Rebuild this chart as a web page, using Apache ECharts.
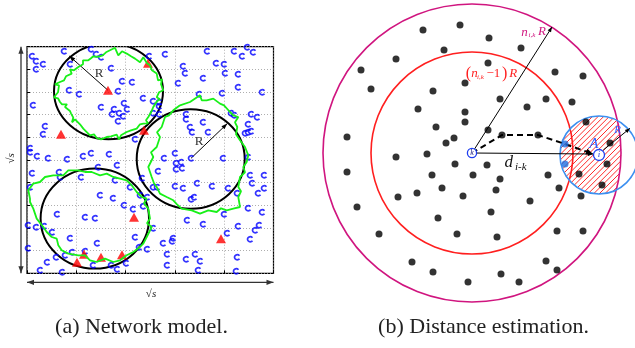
<!DOCTYPE html>
<html><head><meta charset="utf-8">
<script src="https://cdn.jsdelivr.net/npm/echarts@6/dist/echarts.min.js"></script>
<style>html,body{margin:0;padding:0;background:#fff}#c{width:635px;height:348px}</style>
</head><body><div id="c"></div>
<script>
// ---------- (a) Network model : field units ----------
const sensorNodes = [
[5,217],[9,212],[16,209],[9,204],[37,222],[43,209],[64,224],[74,216],[69,219],[84,205],[95,192],[105,191],[91,182],[42,183],[52,179],[6,168],[74,166],[97,170],[100,164],[87,164],[92,160],[85,159],[96,157],[91,152],[116,175],[18,147],[16,139],[3,125],[3,121],[10,117],[21,115],[40,114],[56,117],[64,120],[82,119],[108,134],
[122,217],[138,219],[180,222],[207,222],[215,217],[220,226],[226,221],[156,207],[189,210],[197,209],[158,200],[176,195],[198,200],[211,199],[151,190],[211,186],[235,181],[172,179],[195,180],[126,172],[132,171],[132,167],[126,160],[132,159],[159,159],[159,154],[204,160],[207,158],[224,159],[230,156],[176,151],[163,146],[221,149],[165,141],[181,141],[218,140],[221,141],[224,142],[137,115],[148,120],[164,115],[196,115],[221,116],
[90,108],[71,106],[5,100],[32,101],[33,96],[54,96],[88,93],[3,86],[103,86],[113,78],[73,78],[86,75],[97,68],[106,64],[1,48],[9,46],[17,47],[30,59],[58,56],[68,55],[25,41],[43,35],[70,30],[108,36],[112,26],[1,25],[20,11],[29,16],[38,18],[45,21],[58,22],[66,8],[84,8],[90,4],[99,10],[13,3],[35,1],
[154,111],[149,110],[155,105],[149,104],[131,102],[223,98],[237,98],[115,95],[225,90],[126,86],[130,86],[148,87],[156,85],[170,90],[185,87],[201,85],[210,80],[231,80],[237,85],[167,76],[164,74],[120,76],[221,65],[235,61],[197,59],[160,53],[126,45],[176,49],[211,47],[232,48],[228,43],[146,35],[145,32],[136,30],[200,40],[223,34],[120,24],[140,19],[159,14],[168,19],[173,12],[210,16],[140,8],[171,3],[209,2],[116,67]
];
const anchorNodes = [[81,183],[121,210],[34,139],[117,143],[107,56],[194,34.5],[50,11],[57,19],[74,16],[95,18.5]];
// [cx, cy, rx, ry]
const coverageCircles = [[81.5,182,54.5,48],[163.7,114.3,54,49.7],[67.8,54.7,54.2,50]];
const contourA = [[83,223],[88,225.5],[91.3,218],[95,222],[99.7,219.7],[104,217],[108,214.7],[113,211],[116.3,216],[120,210],[123,208],[125,203],[129.7,199.7],[131,193],[135,194],[134,189],[136.3,183],[132,181],[129.7,176],[133,174],[130,172],[126.3,166.3],[124,161],[121.3,156.3],[119,153],[121,150],[116.3,149.7],[113,149],[109.7,144.7],[104,143],[99.7,141.3],[94,138],[92,134],[89.7,138.7],[84,137],[79.7,136.3],[74,134],[69.7,135.3],[67,139],[63,138],[59,142],[56.3,144.7],[53,149],[51.3,150.7],[48,154],[45,151],[46.3,155.7],[44,160],[43,162.3],[38,166.3],[40,169],[35,169],[33,171.3],[31,175],[27,176],[29,178],[31,181],[30.3,183],[32,188],[28,189],[33,191.3],[37,193],[39,197],[44.7,199.7],[43,204],[47,203],[51.3,206.3],[56,209],[56,213],[61.3,213],[64,215],[66.3,217],[71,216.5],[75.7,218],[79,221]];
const contourB = [[153,168],[163,171.3],[173,178],[174.7,173],[179.7,173],[186.3,174.7],[193,169.7],[197,168],[203,161.3],[206.3,158],[211.3,156.3],[208,151],[210.3,146.3],[209,139],[213,133],[218,126.3],[221.3,118],[219.7,111.3],[216.3,106.3],[218,101],[213,96.3],[211.3,86.3],[214,82],[211.3,76.3],[213,66.3],[206.3,64.7],[199.7,63],[194,65],[189.7,61.3],[181.3,63],[173,59.7],[164.7,63],[154.7,64.7],[150,69],[146.3,73],[139.7,76.3],[133,79.7],[129.7,86.3],[127,90],[124.7,96.3],[121.3,106.3],[126.3,116.3],[124,121],[129.7,126.3],[133,136.3],[130,141],[134.7,146.3],[138,156.3],[142,158],[146.3,163]];
const contourC = [[3,74.7],[1.3,83],[6.3,89.7],[13,91.3],[18,96.3],[26.3,98],[36.3,98],[41.3,103],[51.3,103],[58,101.3],[64.7,101.3],[73,98],[79.7,99.7],[86.3,96.3],[93,94.7],[99.7,93],[104.7,88],[109.7,81.3],[114.7,76.3],[119.7,74.7],[117,70],[121.3,64.7],[123,54.7],[120,50],[124.7,46.3],[119.7,36.3],[116.3,29.7],[111.3,25],[106.3,21.3],[99.7,18],[93,13],[86.3,11.3],[78,14.7],[69.7,11.3],[63,13],[58,18],[51.3,18],[41.3,19.7],[34.7,23],[31.3,28],[29.7,34.7],[24.7,36.3],[19.7,41.3],[16.3,46.3],[9.7,54.7],[6.3,64.7],[3,71.3]];
const radiusArrows = [[81,183,42.3,217.3],[164,115,200.3,149.7]];
const fieldArrows = [[-6,0,-6,226.6],[0,-9,246.5,-9]];
const fieldLabels = [[72,200,'R','rL'],[172,132,'R','rL'],[-16,115,'\u221As','sV'],[124,-21,'\u221As','sH']];

// ---------- (b) Distance estimation : units relative to node k ----------
const otherNodes = [[-12,128],[-49,123],[17,115],[49,105],[-28,103],[-76,94],[16,90],[-111,83],[83,81],[111,77],[-7,70],[-101,64],[-39,62],[28,54],[74,54],[100,51],[-54,44],[55,46],[-7,41],[-7,31],[-36,26],[114,31],[16,23],[30,18],[66,18],[-18,15],[-26,10],[-125,16],[138,10],[-76,-4],[-45,-1],[-17,-11],[15,-12],[135,-11],[-125,-19],[-40,-22],[1,-22],[28,-26],[76,-22],[107,-21],[-30,-35],[24,-37],[87,-35],[130,-32],[-74,-44],[-55,-40],[-9,-43],[109,-43],[-115,-54],[58,-48],[19,-59],[-34,-65],[-93,-81],[-15,-81],[25,-84],[85,-78],[111,-78],[-60,-109],[74,-108],[-39,-119],[29,-121],[85,-117],[-4,-129],[47,-129]];
const relayNodes = [[93,9],[93,-11]];
// [cx, cy, r] : n_{i,k}R ring, (n_{i,k}-1)R ring, range R of node i
const rangeCircles = [[0,0,149],[0,0,101],[127,-2,39]];
const nodeK = [0,0];
const nodeI = [127,-2];
const rangeSegments = [[0,0,121,-1],[0,0,80,126],[131.3,3,158,24.7]];
const hopRoute = [[0,0],[30,18],[66,18],[93,9],[121,-1]];
const estLabels = [
 [52.5,120.5,'n','mg'],[60,117.5,'i,k','mgs'],[70,121.5,'R','mg'],
 [-3.7,79.7,'(','rdp'],[2.5,79.7,'n','rd'],[8.5,76,'i,k','rds'],[21.3,79.7,'\u22121','rdu'],[32.7,79.7,')','rdp'],[41.3,79.7,'R','rd'],
 [36.7,-9.5,'d','dk'],[48.8,-14.5,'i-k','dks'],
 [121.8,9.2,'A','bl'],[145.5,23,'R','bls'],
 [0,0,'k','kk'],[127,-2,'i','ii']
];

// ---------- styles ----------
const SERIF = '"Liberation Serif", "DejaVu Serif", serif';
const labelStyle = {
  rL:{font:'13px '+SERIF, fill:'#333'},
  sV:{font:'italic 11px '+SERIF, fill:'#222', rot:Math.PI/2},
  sH:{font:'italic 11px '+SERIF, fill:'#222'},
  mg:{font:'italic 13px '+SERIF, fill:'#d0157f'},
  mgs:{font:'italic 7px '+SERIF, fill:'#d0157f'},
  rd:{font:'italic 13px '+SERIF, fill:'#ff2020'},
  rds:{font:'italic 7px '+SERIF, fill:'#ff2020'},
  rdu:{font:'13px '+SERIF, fill:'#ff2020'},
  rdp:{font:'16px '+SERIF, fill:'#ff2020'},
  dk:{font:'italic 17px '+SERIF, fill:'#111'},
  dks:{font:'italic 11px '+SERIF, fill:'#111'},
  bl:{font:'italic 15px '+SERIF, fill:'#2f5cff'},
  bls:{font:'italic 11px '+SERIF, fill:'#2f5cff'},
  kk:{font:'italic 8px '+SERIF, fill:'#1a1a80'},
  ii:{font:'italic 9px '+SERIF, fill:'#2040e0'}
};
const ringColors = ['#d0157f','#ff1f1f','#3b8ff0'];
const HATCH_STEP = 5.6;

function arrowEls(p1,p2,color,width,heads,hl,hw,dash){
  const els=[{type:'line',shape:{x1:p1[0],y1:p1[1],x2:p2[0],y2:p2[1]},style:{stroke:color,lineWidth:width,lineDash:dash||null}}];
  const add=(tip,from)=>{const dx=tip[0]-from[0],dy=tip[1]-from[1],L=Math.hypot(dx,dy)||1,ux=dx/L,uy=dy/L;
    const bx=tip[0]-ux*hl,by=tip[1]-uy*hl;
    els.push({type:'polygon',shape:{points:[[tip[0],tip[1]],[bx-uy*hw,by+ux*hw],[bx+uy*hw,by-ux*hw]]},style:{fill:color}});};
  if(heads&1)add(p2,p1); if(heads&2)add(p1,p2);
  return els;
}
function segRender(color,width,heads,hl,hw){
  return function(params,api){
    const a=api.coord([api.value(0),api.value(1)]), b=api.coord([api.value(2),api.value(3)]);
    return {type:'group',children:arrowEls(a,b,color,width,heads,hl,hw)};
  };
}
function makeTextSeries(list, xi, yi){
  return {type:'custom', xAxisIndex:xi, yAxisIndex:yi, clip:false, z:10,
    data:list.map(l=>[l[0],l[1]]),
    renderItem:function(params,api){
      const l=list[params.dataIndex]; const st=labelStyle[l[3]];
      const p=api.coord([l[0],l[1]]);
      return {type:'text', x:p[0], y:p[1], rotation:st.rot||0,
        style:{text:l[2], font:st.font, fill:st.fill, align:'center', verticalAlign:'middle'}};
    }};
}
// hatch of the region shared by the n_{i,k}R disc and node i's range disc
function lensRender(params,api){
  const A=rangeCircles[0], B=rangeCircles[2];
  const span=(c,cx,cy,r)=>{ // line points (t, t+c) inside circle
    const a=2, b=2*(c-cy-cx), cc=cx*cx+(c-cy)*(c-cy)-r*r, disc=b*b-4*a*cc;
    if(disc<=0) return null; const s=Math.sqrt(disc); return [(-b-s)/(2*a),(-b+s)/(2*a)];
  };
  const els=[];
  const cMin=B[1]-B[0]-B[2]*1.5, cMax=B[1]-B[0]+B[2]*1.5;
  for(let c=Math.ceil(cMin/HATCH_STEP)*HATCH_STEP;c<=cMax;c+=HATCH_STEP){
    const s1=span(c,A[0],A[1],A[2]), s2=span(c,B[0],B[1],B[2]);
    if(!s1||!s2) continue;
    const t0=Math.max(s1[0],s2[0]), t1=Math.min(s1[1],s2[1]);
    if(t1<=t0) continue;
    const p=api.coord([t0,t0+c]), q=api.coord([t1,t1+c]);
    els.push({type:'line',shape:{x1:p[0],y1:p[1],x2:q[0],y2:q[1]},style:{stroke:'#ff2a2a',lineWidth:1}});
  }
  return {type:'group',children:els};
}

const ax = (o)=>Object.assign({type:'value', axisLabel:{show:false}, axisLine:{show:false}},o);
const option = {
  animation:false,
  backgroundColor:'#fff',
  grid:[
    {left:27, top:46.7, width:246.5, height:226.6, show:true, borderColor:'#000', borderWidth:1.2, outerBoundsMode:'none'},
    {left:316, top:0, width:320, height:348, show:false, outerBoundsMode:'none'}
  ],
  xAxis:[
    ax({gridIndex:0, min:0, max:10, interval:2, axisTick:{show:true,inside:true,length:3,lineStyle:{color:'#000'}}, splitLine:{show:true,lineStyle:{color:'#999',type:[1,2],width:0.8}}}),
    ax({gridIndex:0, min:0, max:246.5, show:false, splitLine:{show:false}}),
    ax({gridIndex:1, min:-156, max:164, show:false, splitLine:{show:false}})
  ],
  yAxis:[
    ax({gridIndex:0, min:0, max:10, interval:1, axisTick:{show:true,inside:true,length:3,lineStyle:{color:'#000'}}, splitLine:{show:true,lineStyle:{color:'#999',type:[1,2],width:0.8}}}),
    ax({gridIndex:0, min:0, max:226.6, show:false, splitLine:{show:false}}),
    ax({gridIndex:1, min:-195, max:153, show:false, splitLine:{show:false}})
  ],
  graphic:[
    {type:'text', x:141.5, y:327, style:{text:'(a) Network model.', font:'22px '+SERIF, fill:'#222', align:'center', verticalAlign:'middle'}},
    {type:'text', x:483.5, y:327, style:{text:'(b) Distance estimation.', font:'22px '+SERIF, fill:'#222', align:'center', verticalAlign:'middle'}}
  ],
  series:[
    ...[contourA,contourB,contourC].map(c=>({type:'line', xAxisIndex:1, yAxisIndex:1, data:c.concat([c[0]]), symbol:'none', clip:true, lineStyle:{color:'#18f018', width:1.8}})),
    {type:'custom', xAxisIndex:1, yAxisIndex:1, clip:true, data:coverageCircles,
      renderItem:function(params,api){const c=api.coord([api.value(0),api.value(1)]); const s=api.size([api.value(2),api.value(3)]);
        return {type:'ellipse',shape:{cx:c[0],cy:c[1],rx:s[0],ry:s[1]},style:{fill:'none',stroke:'#000',lineWidth:2}};}},
    {type:'scatter', xAxisIndex:1, yAxisIndex:1, data:sensorNodes, symbol:'path://M9,2.6A4,4,0,1,0,9,7.4', symbolSize:5,
      itemStyle:{color:'rgba(0,0,0,0)', borderColor:'#0000ff', borderWidth:1.7}},
    {type:'scatter', xAxisIndex:1, yAxisIndex:1, data:anchorNodes, symbol:'triangle', symbolSize:[10,9], itemStyle:{color:'#ff0000'}},
    {type:'custom', xAxisIndex:1, yAxisIndex:1, clip:false, data:radiusArrows, renderItem:segRender('#000',1,1,6,2.2)},
    {type:'custom', xAxisIndex:1, yAxisIndex:1, clip:false, data:fieldArrows, renderItem:segRender('#333',1.3,3,7,2.6)},
    makeTextSeries(fieldLabels,1,1),
    // (b)
    {type:'custom', xAxisIndex:2, yAxisIndex:2, clip:false, data:[nodeI], renderItem:lensRender},
    {type:'custom', xAxisIndex:2, yAxisIndex:2, clip:false, data:rangeCircles,
      renderItem:function(params,api){const c=api.coord([api.value(0),api.value(1)]); const r=api.size([api.value(2),0])[0];
        return {type:'circle',shape:{cx:c[0],cy:c[1],r:r},style:{fill:'none',stroke:ringColors[params.dataIndex],lineWidth:1.6}};}},
    {type:'custom', xAxisIndex:2, yAxisIndex:2, clip:false, data:rangeSegments, renderItem:segRender('#000',1,1,5,2)},
    {type:'custom', xAxisIndex:2, yAxisIndex:2, clip:false, data:[hopRoute[0]],
      renderItem:function(params,api){const pts=hopRoute.map(p=>api.coord(p));
        const els=[{type:'polyline',shape:{points:pts},style:{stroke:'#000',lineWidth:2,lineDash:[6,4],fill:'none'}}];
        const n=pts.length; const head=arrowEls(pts[n-2],pts[n-1],'#000',0,1,7,3).slice(1);
        return {type:'group',children:els.concat(head)};}},
    {type:'scatter', xAxisIndex:2, yAxisIndex:2, data:otherNodes, symbol:'circle', symbolSize:7, itemStyle:{color:'#000'}},
    {type:'scatter', xAxisIndex:2, yAxisIndex:2, data:relayNodes, symbol:'circle', symbolSize:7, itemStyle:{color:'#1f6fe0'}},
    {type:'custom', xAxisIndex:2, yAxisIndex:2, clip:false, data:[nodeK,nodeI],
      renderItem:function(params,api){const c=api.coord([api.value(0),api.value(1)]);
        return {type:'circle',shape:{cx:c[0],cy:c[1],r:params.dataIndex?5.5:4.6},style:{fill:'#fff',stroke:'#1e3ef0',lineWidth:1.3}};}},
    makeTextSeries(estLabels,2,2)
  ]
};
const chart = echarts.init(document.getElementById('c'), null, {renderer:'canvas'});
chart.setOption(option);
</script></body></html>
